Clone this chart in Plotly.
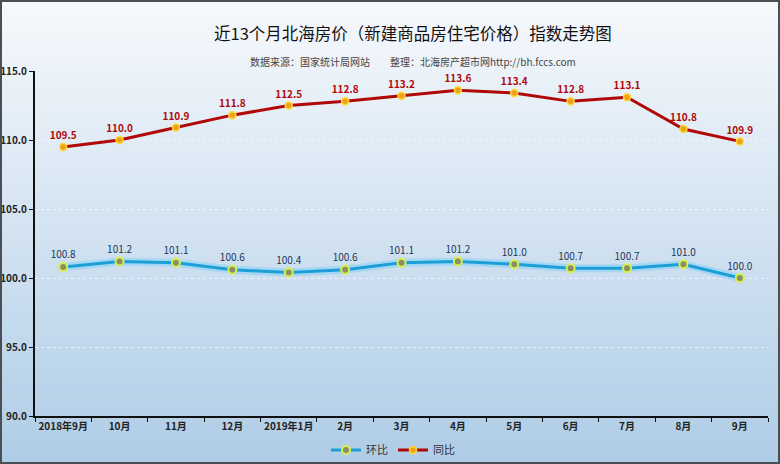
import plotly.graph_objects as go

months = ["2018年9月", "10月", "11月", "12月", "2019年1月", "2月", "3月",
          "4月", "5月", "6月", "7月", "8月", "9月"]
huanbi = [100.8, 101.2, 101.1, 100.6, 100.4, 100.6, 101.1, 101.2, 101.0, 100.7, 100.7, 101.0, 100.0]
tongbi = [109.5, 110.0, 110.9, 111.8, 112.5, 112.8, 113.2, 113.6, 113.4, 112.8, 113.1, 110.8, 109.9]
y_ticks = [90, 95, 100, 105, 110, 115]

W, H = 780, 464
L, R, T, B = 35, 12, 71, 48
pw, ph = W - L - R, H - T - B
FONT = "Noto Sans CJK SC"


def px_x(p):
    return (p - L) / pw


def px_y(p):
    return (H - B - p) / ph


fig = go.Figure()

# glow under the blue line
fig.add_trace(go.Scatter(x=months, y=huanbi, mode="lines", hoverinfo="skip",
                         line=dict(color="rgba(90,200,255,0.35)", width=8), showlegend=False))
fig.add_trace(go.Scatter(
    x=months, y=huanbi, name="环比", mode="lines+markers+text",
    line=dict(color="#1c9fd6", width=3),
    marker=dict(size=8, color="#8a8f6a", line=dict(color="#d8f04a", width=2)),
    text=[f"{v:.1f}" for v in huanbi], textposition="top center",
    textfont=dict(family=FONT, size=10, color="#1f3658"),
))
fig.add_trace(go.Scatter(
    x=months, y=tongbi, name="同比", mode="lines+markers+text",
    line=dict(color="#b00808", width=3),
    marker=dict(size=7, color="#f0a020", line=dict(color="#ffd830", width=1.5)),
    text=[f"{v:.1f}" for v in tongbi], textposition="top center",
    textfont=dict(family=FONT, size=10, color="#b00808", weight="bold"),
))

# background gradient (white -> light blue), drawn as strips in paper coords
n = 58
top_c, bot_c = (246, 249, 252), (176, 205, 231)
for i in range(n):
    f = i / (n - 1)
    c = tuple(int(top_c[k] + (bot_c[k] - top_c[k]) * f) for k in range(3))
    fig.add_shape(type="rect", xref="paper", yref="paper",
                  x0=px_x(0), x1=px_x(W), y0=px_y((i + 1) * H / n + 1), y1=px_y(i * H / n),
                  fillcolor="rgb(%d,%d,%d)" % c, line_width=0, layer="below")
# outer border
fig.add_shape(type="rect", xref="paper", yref="paper",
              x0=px_x(1), x1=px_x(W - 1), y0=px_y(H - 1), y1=px_y(1),
              line=dict(color="#4a4f55", width=2), fillcolor="rgba(0,0,0,0)")

fig.add_annotation(text="近13个月北海房价（新建商品房住宅价格）指数走势图",
                   xref="paper", yref="paper", x=px_x(413), y=px_y(19),
                   showarrow=False, font=dict(family=FONT, size=16.5, color="#111"))
fig.add_annotation(text="数据来源：国家统计局网站　　整理：北海房产超市网http://bh.fccs.com",
                   xref="paper", yref="paper", x=px_x(413), y=px_y(52),
                   showarrow=False, font=dict(family=FONT, size=10, color="#444"))

fig.update_layout(
    width=W, height=H,
    margin=dict(l=L, r=R, t=T, b=B, autoexpand=False),
    paper_bgcolor="#dfeaf4", plot_bgcolor="rgba(0,0,0,0)",
    font=dict(family=FONT, size=10, color="#222"),
    showlegend=True,
    legend=dict(orientation="h", xref="container", yref="container",
                x=393 / W, xanchor="center", y=1 - 450 / H, yanchor="middle",
                font=dict(family=FONT, size=11, color="#333"), bgcolor="rgba(0,0,0,0)",
                traceorder="normal"),
    xaxis=dict(type="category", showgrid=False, showline=True, linecolor="#111", linewidth=2,
               ticks="outside", tickson="boundaries", ticklen=4, tickcolor="#111", tickangle=0,
               automargin=False,
               tickfont=dict(family=FONT, size=10, color="#222", weight="bold"),
               range=[-0.5, 12.5]),
    yaxis=dict(range=[90, 115], tickvals=y_ticks, ticktext=[f"{v:.1f}" for v in y_ticks],
               showline=True, linecolor="#111", linewidth=2, ticks="outside", ticklen=4,
               tickcolor="#111", showgrid=True, gridcolor="rgba(255,255,255,0.6)", griddash="dot",
               zeroline=False, automargin=False,
               tickfont=dict(family=FONT, size=10, color="#222", weight="bold")),
)

# drop the default page margin so the figure sits at the window's corner
fig.write_html("out.html", config={"displayModeBar": False},
               post_script="document.body.style.margin='0';")
